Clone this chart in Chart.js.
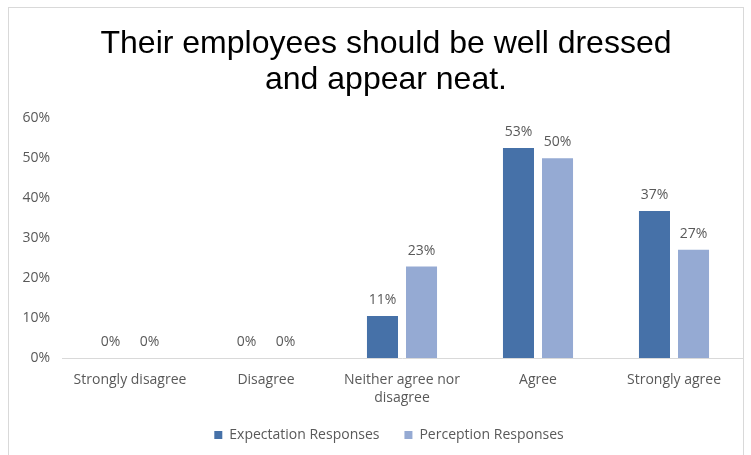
<!DOCTYPE html>
<html>
<head>
<meta charset="utf-8">
<script src="https://cdn.jsdelivr.net/npm/chart.js@4/dist/chart.umd.min.js"></script>
<style>
  html, body { margin: 0; padding: 0; background: #ffffff; }
  #wrap { position: relative; width: 751px; height: 455px; }
  #frame { position: absolute; left: 8px; top: 7px; width: 736px; height: 460px; border: 1px solid #d9d9d9; box-sizing: border-box; pointer-events: none; }
  canvas { position: absolute; left: 0; top: 0; }
</style>
</head>
<body>
<div id="wrap">
  <canvas id="chart" width="751" height="455"></canvas>
  <div id="frame"></div>
</div>
<script>
const categories = ['Strongly disagree', 'Disagree', ['Neither agree nor', 'disagree'], 'Agree', 'Strongly agree'];
const expectationResponses = [0, 0, 10.5, 52.6, 36.8];
const perceptionResponses = [0, 0, 22.9, 50.0, 27.1];
const yTicks = [0, 10, 20, 30, 40, 50, 60];

const textFont = "'Open Sans', 'Noto Sans', sans-serif";
const gray = '#595959';

// writes each bar's rounded value just above it
const valueLabels = {
  id: 'valueLabels',
  afterDatasetsDraw(chart) {
    const ctx = chart.ctx;
    ctx.save();
    ctx.font = '14px ' + textFont;
    ctx.fillStyle = gray;
    ctx.textAlign = 'center';
    ctx.textBaseline = 'bottom';
    chart.data.datasets.forEach((ds, i) => {
      chart.getDatasetMeta(i).data.forEach((bar, j) => {
        ctx.fillText(Math.round(ds.data[j]) + '%', bar.x, bar.y - 9);
      });
    });
    ctx.restore();
  }
};

// nudges the title and legend blocks: centred over the whole card, legend tucked closer to the axis
const blockShift = {
  id: 'blockShift',
  afterLayout(chart) {
    if (chart.titleBlock) chart.titleBlock.left += 20;
    if (chart.legend) {
      chart.legend.left += 26;
      chart.legend.top -= 7;
      chart.legend.bottom -= 7;
    }
  }
};

new Chart(document.getElementById('chart'), {
  type: 'bar',
  data: {
    labels: categories,
    datasets: [
      { label: 'Expectation Responses', data: expectationResponses, backgroundColor: '#4671a8' },
      { label: 'Perception Responses', data: perceptionResponses, backgroundColor: '#95aad3' }
    ]
  },
  options: {
    responsive: false,
    animation: false,
    layout: { padding: { left: 10, right: 9, top: 10, bottom: 3 } },
    datasets: { bar: { categoryPercentage: 0.574, barPercentage: 0.795 } },
    plugins: {
      title: {
        display: true,
        text: ['Their employees should be well dressed', 'and appear neat.'],
        color: '#000000',
        font: { family: "'Liberation Sans', Arial, sans-serif", size: 32, weight: 'normal', lineHeight: 1.13 },
        padding: { top: 16, bottom: 20 }
      },
      legend: {
        position: 'bottom',
        maxHeight: 42,
        labels: {
          color: gray,
          font: { family: textFont, size: 14 },
          boxWidth: 8,
          boxHeight: 8,
          padding: 25
        }
      },
      tooltip: { enabled: false }
    },
    scales: {
      x: {
        afterFit(axis) { axis.height = 52; },
        grid: { display: false, drawTicks: false },
        border: { color: '#d9d9d9', width: 1 },
        ticks: { color: gray, font: { family: textFont, size: 14, lineHeight: 1.3 }, padding: 13, maxRotation: 0, autoSkip: false }
      },
      y: {
        min: 0,
        max: 60,
        afterBuildTicks(axis) { axis.ticks = yTicks.map(v => ({ value: v })); },
        afterFit(axis) { axis.width = 52; },
        grid: { display: false, drawTicks: false },
        border: { display: false },
        ticks: { color: gray, font: { family: textFont, size: 14 }, padding: 12, callback: v => v + '%' }
      }
    }
  },
  plugins: [valueLabels, blockShift]
});
</script>
</body>
</html>
